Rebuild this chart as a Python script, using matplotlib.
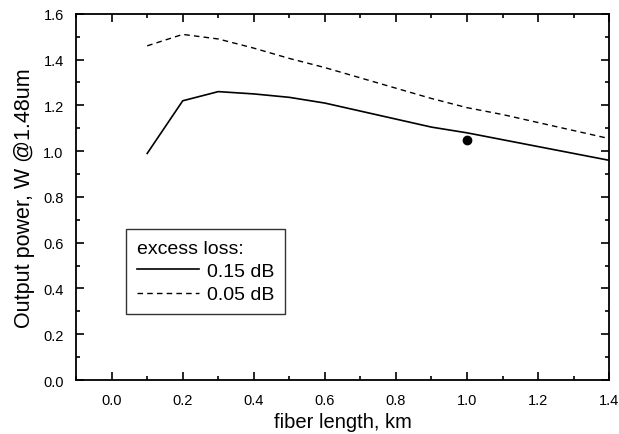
import matplotlib.pyplot as plt
from matplotlib.ticker import MultipleLocator

plt.rcParams['font.family'] = ['Liberation Sans', 'DejaVu Sans']

length_km = [0.1, 0.2, 0.3, 0.4, 0.5, 0.6, 0.7, 0.8, 0.9, 1.0, 1.1, 1.2, 1.3, 1.4]
power_015 = [0.99, 1.22, 1.26, 1.25, 1.235, 1.21, 1.175, 1.14, 1.105, 1.08, 1.05, 1.02, 0.99, 0.96]
power_005 = [1.46, 1.51, 1.49, 1.45, 1.405, 1.365, 1.32, 1.275, 1.23, 1.19, 1.16, 1.125, 1.09, 1.055]
meas_x = [1.0]
meas_y = [1.05]

fig = plt.figure(figsize=(6.19, 4.35), dpi=100)
ax = fig.add_axes([0.123, 0.124, 0.861, 0.842])

ax.plot(length_km, power_015, color='black', lw=1.2, ls='-', label='0.15 dB')
ax.plot(length_km, power_005, color='black', lw=1.0, ls=(0, (4, 3)), label='0.05 dB')
ax.plot(meas_x, meas_y, 'o', color='black', ms=6)

ax.set_xlim(-0.1, 1.4)
ax.set_ylim(0, 1.6)
ax.xaxis.set_major_locator(MultipleLocator(0.2))
ax.xaxis.set_minor_locator(MultipleLocator(0.1))
ax.yaxis.set_major_locator(MultipleLocator(0.2))
ax.yaxis.set_minor_locator(MultipleLocator(0.1))
ax.tick_params(which='both', direction='in', top=True, right=True, width=1.2)
ax.tick_params(which='major', length=6, labelsize=10.5, pad=9)
ax.tick_params(which='minor', length=3)
for s in ax.spines.values():
    s.set_linewidth(1.3)

ax.set_xlabel('fiber length, km', fontsize=14.5, labelpad=4)
ax.set_ylabel('Output power, W @1.48um', fontsize=15.5, labelpad=6)

leg = ax.legend(title='excess loss:', loc='lower left', bbox_to_anchor=(0.094, 0.18),
                fontsize=14, title_fontsize=14, frameon=True, fancybox=False,
                edgecolor='black', handlelength=3.2, handletextpad=0.4,
                borderpad=0.55, labelspacing=0.3, borderaxespad=0)
leg._legend_box.align = 'left'
leg.get_frame().set_linewidth(1.0)

fig.savefig('out.png', dpi=100)
